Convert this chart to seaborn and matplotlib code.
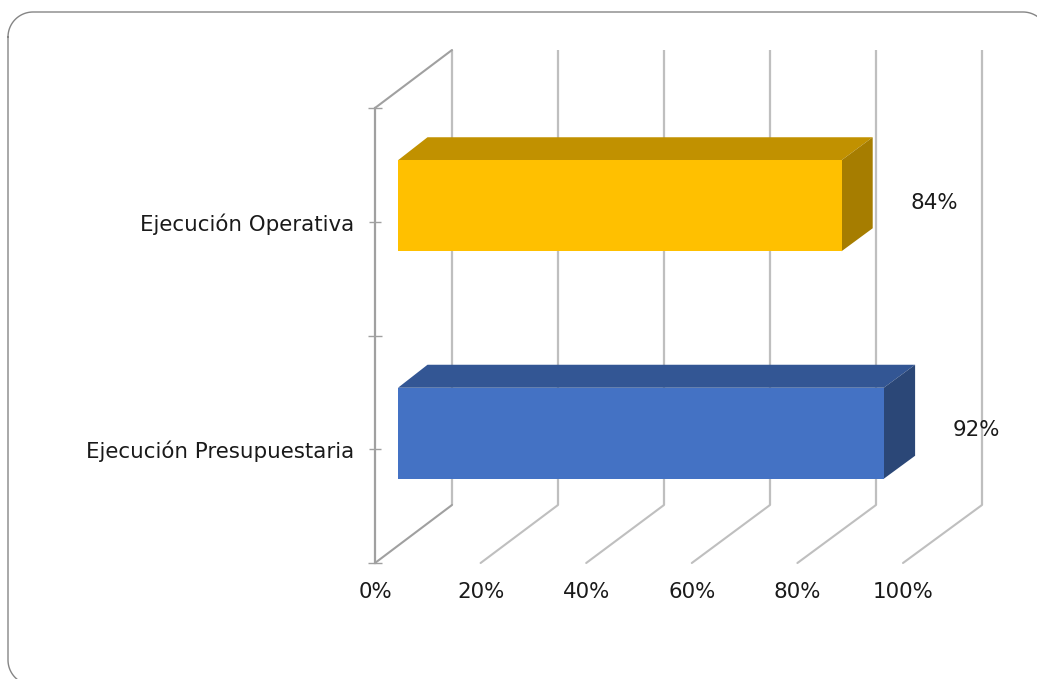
import matplotlib
matplotlib.use("Agg")
import matplotlib.pyplot as plt
from matplotlib.lines import Line2D
from matplotlib.patches import Polygon
from matplotlib.transforms import Affine2D, IdentityTransform
import numpy as np
import pandas as pd
import seaborn as sns

categories = ["Ejecución Operativa", "Ejecución Presupuestaria"]
values = [84, 92]
value_labels = ["84%", "92%"]
x_ticks = [0, 20, 40, 60, 80, 100]
x_tick_labels = ["0%", "20%", "40%", "60%", "80%", "100%"]
front_colors = ["#FFC000", "#4472C4"]
top_colors = ["#C19100", "#335694"]
side_colors = ["#A67D00", "#2B4777"]

W, H = 1037, 679
AX_L, AX_R, AX_T, AX_B = 375, 903, 108, 563
PX_X = (AX_R - AX_L) / 100.0      # px per percent
PX_Y = (AX_B - AX_T) / 2.0        # px per category band
BACK_SCALE = 530 / 528            # back plane is slightly wider than the front plane


def dx(px):
    return px / PX_X


def dy(px):
    # y axis is inverted: upward offset in pixels -> negative data
    return -px / PX_Y


sns.set_theme(style="white")
plt.rcParams["font.family"] = ["DejaVu Sans"]
FS = 15.4
TEXT = "#1a1a1a"

fig = plt.figure(figsize=(W / 100, H / 100), dpi=100, facecolor="white")
ax = fig.add_axes([AX_L / W, (H - AX_B) / H, (AX_R - AX_L) / W, (AX_B - AX_T) / H])
ax.patch.set_alpha(0)

df = pd.DataFrame({"category": categories, "value": values})
sns.barplot(data=df, y="category", x="value", hue="category", palette=front_colors,
            orient="h", width=0.4, legend=False, ax=ax, saturation=1, zorder=4)
ax.set_xlim(0, 100)
ax.set_ylim(1.5, -0.5)
ax.set_xlabel("")
ax.set_ylabel("")

# wall and floor
BACK_X, BACK_Y = dx(77), dy(58)
GRID = "#BFBFBF"
WALL = "#A0A0A0"
y_floor, y_top = 1.5, -0.5
for t in x_ticks:
    bx = t * BACK_SCALE + BACK_X
    ax.plot([bx, bx], [y_top + BACK_Y, y_floor + BACK_Y], color=GRID,
            lw=1.6, clip_on=False, zorder=1, solid_capstyle="butt")
    ax.plot([t, bx], [y_floor, y_floor + BACK_Y], color=WALL if t == 0 else GRID,
            lw=1.5, clip_on=False, zorder=1)
ax.plot([0, BACK_X], [y_top, y_top + BACK_Y], color=WALL, lw=1.5, clip_on=False, zorder=1)

# 3D bar faces
FX, FY = dx(23), dy(16)
RX, RY = dx(52.5), dy(39)
for i, patch in enumerate(ax.patches):
    w = patch.get_width()
    y0 = patch.get_y()
    y1 = y0 + patch.get_height()
    rw = w * BACK_SCALE
    patch.set_transform(Affine2D().translate(FX, FY) + ax.transData)
    patch.set_edgecolor("none")
    patch.set_clip_on(False)
    ax.add_patch(Polygon([(FX, y0 + FY), (FX + w, y0 + FY), (RX + rw, y0 + RY), (RX, y0 + RY)],
                         closed=True, fc=top_colors[i], ec="none", clip_on=False, zorder=3))
    ax.add_patch(Polygon([(FX + w, y0 + FY), (RX + rw, y0 + RY), (RX + rw, y1 + RY), (FX + w, y1 + FY)],
                         closed=True, fc=side_colors[i], ec="none", clip_on=False, zorder=3))

# data labels
for i, (v, lab) in enumerate(zip(values, value_labels)):
    ax.text(v + dx(116), i + dy(19), lab, ha="center", va="center",
            fontsize=FS, color=TEXT, clip_on=False, zorder=5)

# axes
for s in ["top", "right", "bottom"]:
    ax.spines[s].set_visible(False)
ax.spines["left"].set_color(WALL)
ax.spines["left"].set_linewidth(1.6)
ax.set_xticks(x_ticks)
ax.set_xticklabels(x_tick_labels, fontsize=FS, color=TEXT)
ax.tick_params(axis="x", length=0, pad=14)
ax.set_yticks(range(len(categories)))
ax.set_yticklabels(categories, fontsize=FS, color=TEXT)
ax.set_yticks([-0.5, 0.5, 1.5], minor=True)
ax.tick_params(axis="y", which="major", left=True, direction="inout", length=8, width=1,
               color=WALL, pad=11)
ax.tick_params(axis="y", which="minor", left=True, direction="inout", length=10, width=1,
               color=WALL)

# rounded outer border, running past the right and bottom edges of the picture
L, R, T, B, RAD = 8, 1048, 12, 685, 25
corners = [(L + RAD, T + RAD, 180, 270), (R - RAD, T + RAD, 270, 360),
           (R - RAD, B - RAD, 0, 90), (L + RAD, B - RAD, 90, 180)]
bx_pts, by_pts = [], []
for cx, cy, a0, a1 in corners:
    a = np.radians(np.linspace(a0, a1, 24))
    bx_pts.extend(cx + RAD * np.cos(a))
    by_pts.extend(H - (cy + RAD * np.sin(a)))
bx_pts.append(bx_pts[0])
by_pts.append(by_pts[0])
fig.add_artist(Line2D(bx_pts, by_pts, transform=IdentityTransform(), color="#858585", lw=1.0,
                      solid_capstyle="round", zorder=10))

fig.savefig("out.png", dpi=100)
